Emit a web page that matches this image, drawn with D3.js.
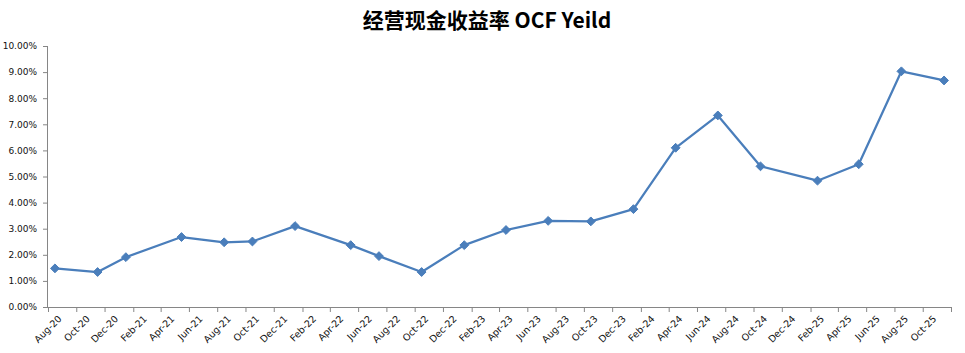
<!DOCTYPE html>
<html>
<head>
<meta charset="utf-8">
<script src="https://cdn.jsdelivr.net/npm/d3@7"></script>
<style>
  body { margin: 0; background: #fff; }
  svg { display: block; }
  .axis text { font-family: "DejaVu Sans", Verdana, sans-serif; font-size: 9px; fill: #111; }
  .axis .lbl { font-size: 9.5px; }
  .axis path, .axis line { stroke: #868686; }
</style>
</head>
<body>
<svg id="chart" width="965" height="353"></svg>
<script>
// report months and OCF yield (%)
var months = ["2020-08","2020-11","2021-01","2021-05","2021-08","2021-10","2022-01","2022-05",
              "2022-07","2022-10","2023-01","2023-04","2023-07","2023-10","2024-01","2024-04",
              "2024-07","2024-10","2025-02","2025-05","2025-08","2025-11"];
var yields = [1.48, 1.34, 1.91, 2.68, 2.48, 2.51, 3.10, 2.37,
              1.95, 1.34, 2.37, 2.95, 3.30, 3.28, 3.75, 6.10,
              7.34, 5.39, 4.84, 5.47, 9.03, 8.68];
var yTicks = [0, 1, 2, 3, 4, 5, 6, 7, 8, 9, 10];
var title = "经营现金收益率 OCF Yeild";

var svg = d3.select("#chart"),
    width = +svg.attr("width"),
    height = +svg.attr("height");

var margin = {top: 46, right: 14, bottom: 46, left: 48};
var parseMonth = d3.utcParse("%Y-%m");

var data = months.map(function(m, i) {
  var d = parseMonth(m);
  // point sits in the middle of its month slot
  return {date: d3.utcDay.offset(d, 15), v: yields[i]};
});

var start = d3.utcMonth.floor(parseMonth(months[0]));
var end = d3.utcMonth.offset(parseMonth(months[months.length - 1]), 1);

var x = d3.scaleUtc()
    .domain([start, end])
    .range([margin.left, width - margin.right]);

var y = d3.scaleLinear()
    .domain([0, 10])
    .range([height - margin.bottom, margin.top]);

// title
svg.append("text")
    .attr("x", 487)
    .attr("y", 28)
    .attr("text-anchor", "middle")
    .style("font-family", "'Noto Sans CJK SC', sans-serif")
    .style("font-weight", "bold")
    .style("font-size", "21px")
    .style("fill", "#000")
    .text(title);

// y axis
svg.append("g")
    .attr("class", "axis")
    .attr("transform", "translate(" + margin.left + ",0)")
    .call(d3.axisLeft(y).tickValues(yTicks).tickSize(5).tickPadding(6)
      .tickFormat(function(d) { return d3.format(".2f")(d) + "%"; }))
    .call(function(g) { g.select(".domain").attr("d", "M-0.5," + y(0) + "V" + y(10)); });

// x axis: ticks every 2 months on slot boundaries, starting at Aug-20
var tickDates = d3.utcMonth.range(start, d3.utcMonth.offset(end, 1), 2);
var xg = svg.append("g")
    .attr("class", "axis")
    .attr("transform", "translate(0," + y(0) + ")");

xg.call(d3.axisBottom(x).tickValues(tickDates).tickSize(5).tickFormat(""))
  .call(function(g) { g.select(".domain").attr("d", "M" + x(start) + ",0.5H" + x(end)); });

var labelDates = tickDates.filter(function(d) { return d < end; });
xg.selectAll(".lbl")
    .data(labelDates)
    .enter().append("text")
    .attr("class", "lbl")
    .attr("text-anchor", "end")
    .attr("transform", function(d) {
      var cx = x(d3.utcDay.offset(d, 15));
      return "translate(" + (cx + 5) + ",10) rotate(-45)";
    })
    .attr("dy", "0.35em")
    .text(function(d) { return d3.utcFormat("%b-%y")(d); });

// line + markers
var line = d3.line()
    .x(function(d) { return x(d.date); })
    .y(function(d) { return y(d.v); });

svg.append("path")
    .datum(data)
    .attr("fill", "none")
    .attr("stroke", "#4a7ebb")
    .attr("stroke-width", 2.25)
    .attr("stroke-linejoin", "round")
    .attr("d", line);

svg.append("g")
    .selectAll("path")
    .data(data)
    .enter().append("path")
    .attr("d", d3.symbol().type(d3.symbolDiamond2).size(50))
    .attr("transform", function(d) { return "translate(" + x(d.date) + "," + y(d.v) + ")"; })
    .attr("fill", "#4a7ebb")
    .attr("stroke", "#4a7ebb")
    .attr("stroke-width", 1);
</script>
</body>
</html>
